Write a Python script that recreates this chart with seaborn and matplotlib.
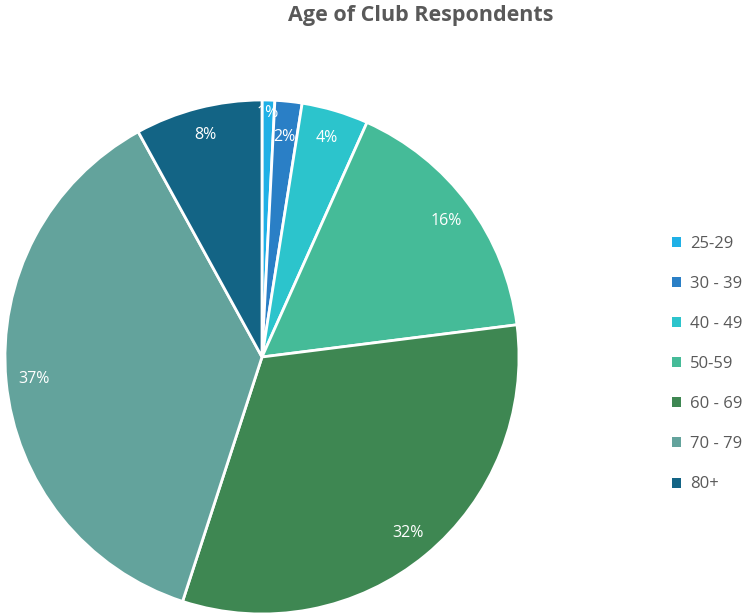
import matplotlib
matplotlib.use("Agg")
import matplotlib.pyplot as plt
import seaborn as sns

# age groups and their share of respondents
ages = ["25-29", "30 - 39", "40 - 49", "50-59", "60 - 69", "70 - 79", "80+"]
shares = [0.8, 1.7, 4.2, 16.3, 32.0, 37.0, 8.0]
pct_labels = ["1%", "2%", "4%", "16%", "32%", "37%", "8%"]
colours = ["#1fb0e6", "#2a7fc6", "#2cc4cc", "#45bb98", "#3e8752", "#63a39c", "#136485"]

sns.set_style("white")
plt.rcParams["font.family"] = ["Open Sans", "DejaVu Sans"]

fig = plt.figure(figsize=(7.45, 6.16), dpi=100)
ax = fig.add_axes([5 / 745, 2 / 616, 514 / 745, 514 / 616])

lab_iter = iter(pct_labels)
wedges, texts, autotexts = ax.pie(
    shares,
    colors=sns.color_palette(colours),
    startangle=90,
    counterclock=False,
    radius=1,
    autopct=lambda p: next(lab_iter),
    pctdistance=0.89,
    wedgeprops=dict(edgecolor="white", linewidth=2),
    textprops=dict(color="white", fontsize=11.5),
)
# the two thin slices have their labels staggered
x, y = autotexts[0].get_position()
autotexts[0].set_position((x * 0.95 / 0.89, y * 0.95 / 0.89))
x, y = autotexts[1].get_position()
autotexts[1].set_position((x * 0.86 / 0.89, y * 0.86 / 0.89))

ax.set_xlim(-1.0, 1.0)
ax.set_ylim(-1.0, 1.0)
ax.set_aspect("auto")
ax.axis("off")

fig.text(421 / 745, 1 - 16 / 616, "Age of Club Respondents", ha="center", va="center",
         fontsize=15.5, fontweight="bold", color="#595959")

leg = fig.legend(wedges, ages, loc="center left", bbox_to_anchor=(657 / 745, 1 - 364 / 616),
                 frameon=False, fontsize=12, labelcolor="#595959",
                 handlelength=0.55, handleheight=0.55, handletextpad=0.55, labelspacing=1.45)
for h in leg.legend_handles:
    h.set_edgecolor("none")

fig.savefig("out.png", dpi=100)
